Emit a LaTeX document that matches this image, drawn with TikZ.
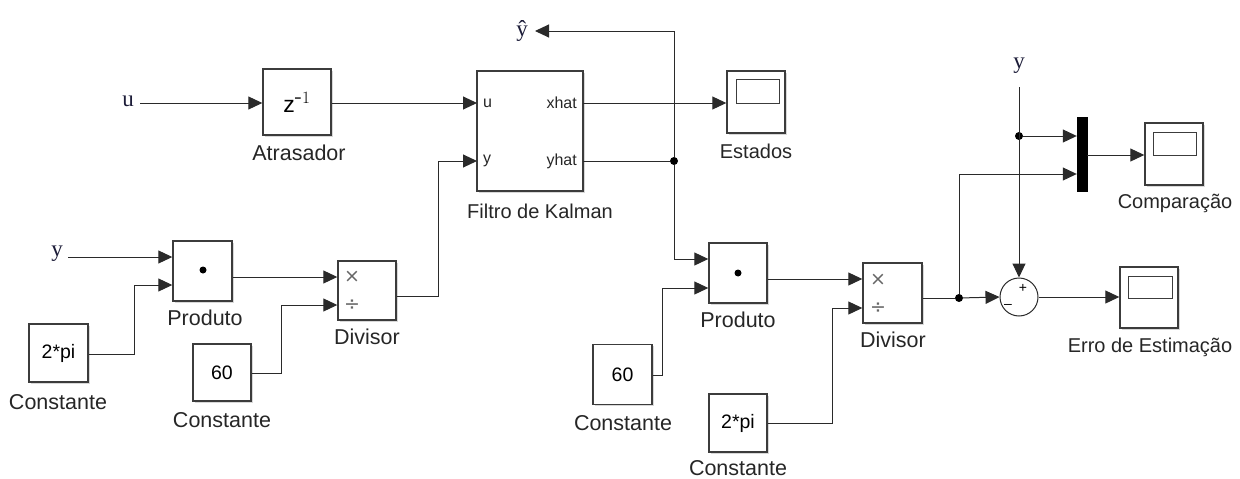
\documentclass[tikz,border=0pt]{standalone}
\usepackage{fontspec}
\setmainfont{Liberation Sans}
\newfontfamily\sigfont{Liberation Serif}
\newfontfamily\symfont{DejaVu Sans}
\usetikzlibrary{arrows.meta,shadows}
\definecolor{linec}{HTML}{2A2A2A}
\definecolor{boxc}{HTML}{3C3C3C}
\definecolor{sigc}{HTML}{1C1C38}
\begin{document}
\begin{tikzpicture}[x=1pt,y=-1pt,
  blk/.style={draw=boxc,line width=1.4pt,fill=white,inner sep=0pt,
    drop shadow={shadow xshift=1.5pt,shadow yshift=-1.5pt,fill=black!30,opacity=0.5}},
  lbl/.style={inner sep=0pt,font=\fontsize{20}{22}\selectfont,text=black!85},
  lblw/.style={inner sep=0pt,font=\fontsize{21.5}{23}\selectfont,text=black!85},
  sig/.style={draw=linec,line width=1pt,-{Triangle[length=14pt,width=13pt]}},
  wire/.style={draw=linec,line width=1pt},
  sname/.style={inner sep=0pt,font=\sigfont\fontsize{23}{25}\selectfont,text=sigc},
  port/.style={inner sep=0pt,font=\fontsize{16}{18}\selectfont,text=black!85},
  opsym/.style={inner sep=0pt,text=black!60,font=\symfont\fontsize{19}{20}\selectfont},
  dotj/.style={circle,fill=black,inner sep=0pt,minimum size=8pt},
  inner/.style={draw=boxc,line width=1pt}
]
\useasboundingbox (0,0) rectangle (1240,479);
% ---------- blocks ----------
\node[blk,minimum width=68pt,minimum height=66pt] (atr) at (297,102) {\fontsize{23}{25}\selectfont z$^{\textsf{-}1}$};
\node[lblw] (atrL) at (299,153) {Atrasador};

\node[blk,minimum width=106pt,minimum height=120pt] (kal) at (530,131) {};
\node[lbl] (kalL) at (540,211) {Filtro de Kalman};
\node[port,anchor=west] (kpu) at (483,103) {u};
\node[port,anchor=west] (kpy) at (483,161) {y};
\node[port,anchor=east] (kpx) at (577,103) {xhat};
\node[port,anchor=east] (kpyh) at (577,161) {yhat};

\node[blk,minimum width=58pt,minimum height=62pt] (est) at (756,102) {};
\draw[inner] (736,79) rectangle (779,103);
\node[lbl] (estL) at (756,151) {Estados};

\node[blk,minimum width=59pt,minimum height=60pt] (prodA) at (202.5,271) {};
\node[circle,fill=black,inner sep=0pt,minimum size=7pt] (prodAd) at (203,270) {};
\node[lblw] (prodAL) at (205,318) {Produto};

\node[blk,minimum width=58pt,minimum height=59pt] (divA) at (367,290.5) {};
\node[opsym] (divAx) at (352,277) {×};
\node[opsym] (divAd) at (352,305) {÷};
\node[lblw] (divAL) at (367,337) {Divisor};

\node[blk,minimum width=59pt,minimum height=58pt] (cA) at (58.5,353) {\fontsize{19.5}{21}\selectfont 2*pi};
\node[lblw] (cAL) at (58,402) {Constante};

\node[blk,minimum width=58pt,minimum height=57pt] (cB) at (222,372.5) {\fontsize{19.5}{21}\selectfont 60};
\node[lblw] (cBL) at (222,420) {Constante};

\node[blk,minimum width=58pt,minimum height=60pt] (prodB) at (738,273) {};
\node[circle,fill=black,inner sep=0pt,minimum size=7pt] (prodBd) at (738,273) {};
\node[lblw] (prodBL) at (738,320) {Produto};

\node[blk,minimum width=59pt,minimum height=60pt] (cC) at (622.5,374.5) {\fontsize{19.5}{21}\selectfont 60};
\node[lblw] (cCL) at (623,423) {Constante};

\node[blk,minimum width=59pt,minimum height=60pt] (divB) at (892.5,293) {};
\node[opsym] (divBx) at (878,280) {×};
\node[opsym] (divBd) at (878,308) {÷};
\node[lblw] (divBL) at (893,340) {Divisor};

\node[blk,minimum width=58pt,minimum height=58pt] (cD) at (738,423) {\fontsize{19.5}{21}\selectfont 2*pi};
\node[lblw] (cDL) at (738,468) {Constante};

\node[draw=linec,line width=1pt,fill=white,circle,minimum size=38pt,inner sep=0pt] (sum) at (1019,297) {};
\node[inner sep=0pt,font=\fontsize{14}{15}\selectfont] (sump) at (1023,288) {+};
\node[inner sep=0pt,font=\fontsize{14}{15}\selectfont] (summ) at (1008,306) {–};

\node[draw=black,fill=black,minimum width=10pt,minimum height=74pt,inner sep=0pt] (mux) at (1082,154) {};

\node[blk,minimum width=58pt,minimum height=62pt] (cmp) at (1174,154) {};
\draw[inner] (1153,132) rectangle (1196,155);
\node[lbl] (cmpL) at (1175,203) {Comparação};

\node[blk,minimum width=58pt,minimum height=61pt] (err) at (1149,297.5) {};
\draw[inner] (1128,276) rectangle (1172,298);
\node[lbl] (errL) at (1150,347) {Erro de Estimação};

% ---------- signal names ----------
\node[sname] (uN) at (128,101) {u};
\node[sname] (yN) at (57,254) {y};
\node[sname] (yhN) at (522,31) {ŷ};
\node[sname] (yR) at (1019,66) {y};

% ---------- ports / corners ----------
\coordinate (kalU) at (477,103);
\coordinate (kalY) at (477,161);
\coordinate (kalX) at (583,103);
\coordinate (kalYH) at (583,161);
\node[dotj] (j1) at (674,161) {};
\node[dotj] (j2) at (959,298) {};
\node[dotj] (j3) at (1019,136) {};

% ---------- connectors ----------
\draw[sig] (140,103) coordinate (uS) -- (atr.west |- uS);
\draw[sig] (atr.east |- kalU) -- (kalU);
\draw[sig] (kalX) -- (est.west |- kalX);
\draw[wire] (kalYH) -- (j1);
\draw[sig] (j1) -- (674,31) -- (535,31);
\draw[sig] (j1) -- (674,259) -- (prodB.west |- 0,259);

\draw[sig] (68,257) coordinate (yS) -- (prodA.west |- yS);
\draw[sig] (cA.east |- 0,354) -- (134,354) -- (134,285) -- (prodA.west |- 0,285);
\draw[sig] (prodA.east |- 0,277) -- (divA.west |- 0,277);
\draw[sig] (cB.east |- 0,373) -- (281,373) -- (281,305) -- (divA.west |- 0,305);
\draw[sig] (divA.east |- 0,296) -- (438,296) -- (438,161) -- (kalY);

\draw[sig] (cC.east |- 0,375) -- (662,375) -- (662,288) -- (prodB.west |- 0,288);
\draw[sig] (prodB.east |- 0,279) -- (divB.west |- 0,279);
\draw[sig] (cD.east |- 0,423) -- (832,423) -- (832,308) -- (divB.west |- 0,308);
\draw[wire] (divB.east |- j2) -- (j2);
\draw[sig] (j2) -- (sum.west);
\draw[sig] (j2) -- (959,174) -- (mux.west |- 0,174);

\draw[sig] (1019,87) -- (sum.north);
\draw[sig] (j3) -- (mux.west |- j3);
\draw[sig] (mux.east |- 0,155) -- (cmp.west |- 0,155);
\draw[sig] (sum.east) -- (err.west |- sum.east);
\end{tikzpicture}
\end{document}
